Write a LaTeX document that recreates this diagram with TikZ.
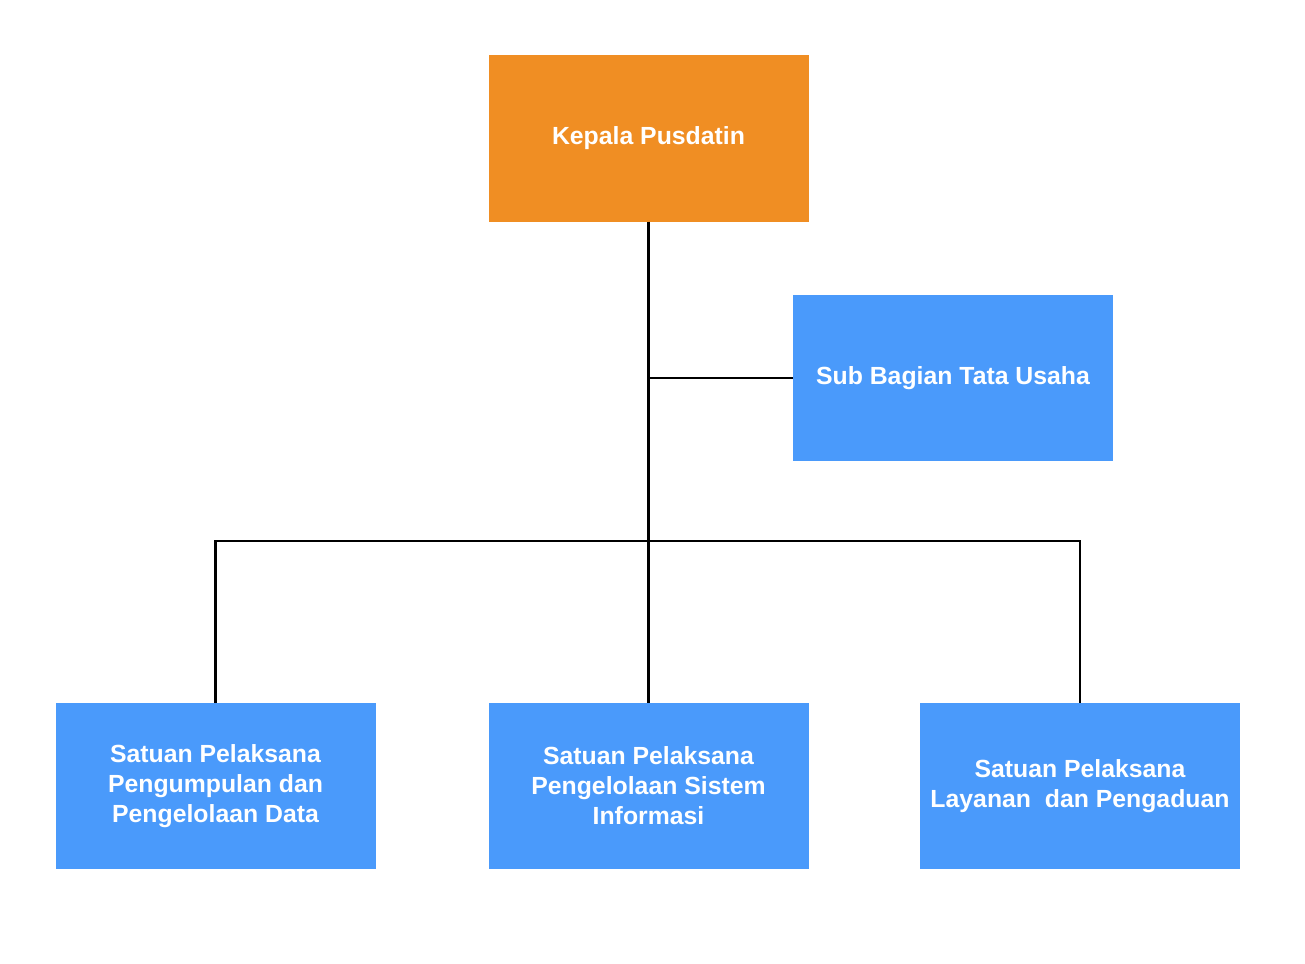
\documentclass[tikz,border=0pt]{standalone}
\usepackage{fontspec}
\setmainfont{Liberation Sans}
\definecolor{orangebox}{HTML}{F08E23}
\definecolor{bluebox}{HTML}{4A9AFB}
\begin{document}
\begin{tikzpicture}[x=1pt,y=-1pt,
  box/.style={draw=none,minimum width=320pt,minimum height=166pt,inner sep=0pt,
    text=white,align=center,font=\fontsize{24.8}{30}\selectfont\bfseries},
  headbox/.style={box,fill=orangebox},
  unitbox/.style={box,fill=bluebox},
  link/.style={line width=2.6pt,black}]
\useasboundingbox (0,0) rectangle (1305,963);
\fill[white] (0,0) rectangle (1305,963);
\node[headbox] (kepala) at (648.5,138.5) {Kepala Pusdatin};
\node[unitbox] (tu) at (953,378) {Sub Bagian Tata Usaha};
\node[unitbox] (sp1) at (215.5,786) {Satuan Pelaksana\\Pengumpulan dan\\Pengelolaan Data};
\node[unitbox] (sp2) at (648.5,786) {Satuan Pelaksana\\Pengelolaan Sistem\\Informasi};
\node[unitbox] (sp3) at (1080,786) {Satuan Pelaksana\\Layanan\ \ dan Pengaduan};
\coordinate (jt) at (649,378);
\coordinate (bus) at (649,541);
\draw[link] (kepala.south) -- (sp2.north);
\draw[link] (jt) -- (tu.west);
\draw[link] (sp1.north) |- (bus) -| (sp3.north);
\end{tikzpicture}
\end{document}
